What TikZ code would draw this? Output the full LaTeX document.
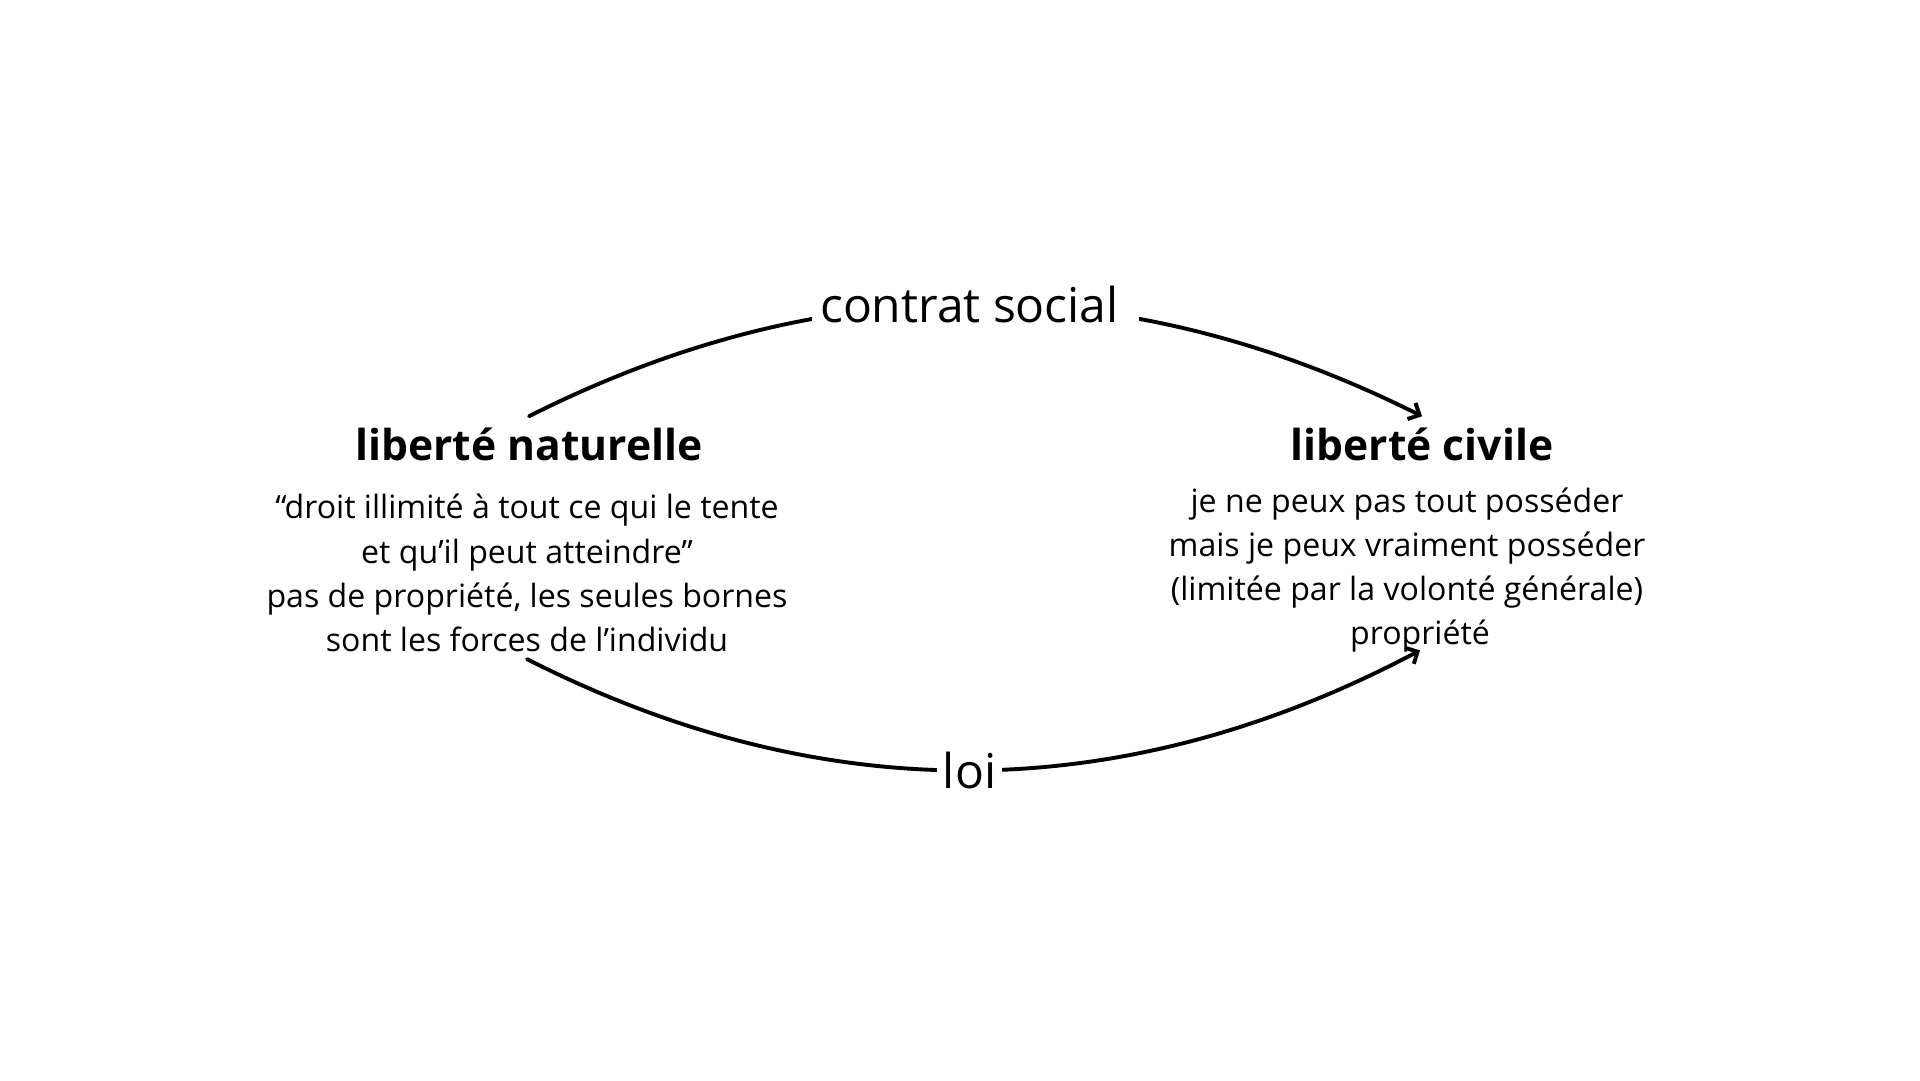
\documentclass[tikz,border=0pt]{standalone}
\usepackage{fontspec}
\setmainfont{Open Sans}
\usetikzlibrary{arrows.meta}
\begin{document}
\begin{tikzpicture}[x=1pt,y=-1pt,
  titletext/.style={font=\fontsize{42.6}{50}\selectfont\bfseries, inner xsep=7pt, inner ysep=11pt},
  bodytext/.style={font=\fontsize{32.1}{44.3}\selectfont, align=center, inner sep=0pt},
  arclabel/.style={font=\fontsize{48}{56}\selectfont, fill=white, inner ysep=2pt, inner xsep=6pt},
  link/.style={line width=3.9pt, line cap=round, line join=round, -{Straight Barb[length=9pt,width=18pt]}}
]
\useasboundingbox[fill=white] (0,0) rectangle (1920,1080);
\node[titletext] (tL) at (529,444) {liberté naturelle};
\node[titletext] (tR) at (1422,444) {liberté civile};
\node[bodytext] (bL) at (527,573) {“droit illimité à tout ce qui le tente\\ et qu’il peut atteindre”\\ pas de propriété, les seules bornes\\ sont les forces de l’individu};
\node[bodytext] (bR) at (1407,548) {je ne peux pas tout posséder\\ mais je peux vraiment posséder\\ (limitée par la volonté générale)};
\node[bodytext] (pR) at (1420,636) {propriété};
\draw[link] (tL.north) .. controls +(297,-150) and +(-297,-149) .. (tR.north)
  node[arclabel, pos=0.5, inner xsep=8pt] (cs) {contrat social\kern12pt};
\draw[link] ([yshift=-7pt]bL.south) .. controls +(297,151) and +(-297,157) .. ([yshift=2pt]pR.south)
  node[arclabel, pos=0.5, xshift=-4pt] (loi) {loi};
\end{tikzpicture}
\end{document}
